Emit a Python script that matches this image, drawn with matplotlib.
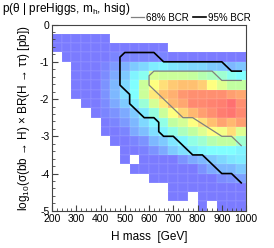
import numpy as np
import matplotlib.pyplot as plt
from matplotlib.colors import LinearSegmentedColormap

plt.rcParams['font.family'] = ['Liberation Sans', 'DejaVu Sans']
plt.rcParams['mathtext.fontset'] = 'custom'
plt.rcParams['mathtext.rm'] = 'Liberation Sans'
plt.rcParams['mathtext.it'] = 'Liberation Sans:italic'
plt.rcParams['axes.unicode_minus'] = False

# bin edges of the posterior histogram
mass_edges = np.arange(200, 1001, 40)
xsec_edges = np.arange(0, -5.01, -0.25)

# posterior density (arbitrary units, 0 = empty bin), rows from top (log10 = 0) down
density = [
    [0, 0, 0, 0, 0, 0, 0, 0, 0, 0, 0, 0, 0, 0, 0, 0, 0, 0, 0, 0],
    [5, 5, 5, 5, 5, 5, 0, 0, 0, 0, 0, 0, 0, 0, 0, 0, 0, 0, 0, 0],
    [5, 5, 5, 5, 5, 5, 5, 5, 5, 5, 5, 5, 0, 0, 0, 0, 0, 0, 0, 0],
    [0, 5, 5, 5, 5, 5, 8, 8, 8, 8, 8, 8, 5, 5, 5, 5, 5, 5, 5, 5],
    [0, 0, 5, 5, 5, 8, 14, 20, 27, 31, 37, 39, 35, 33, 31, 31, 27, 26, 22, 26],
    [0, 0, 5, 5, 5, 10, 18, 27, 39, 44, 58, 56, 56, 56, 55, 52, 50, 48, 44, 42],
    [0, 0, 5, 5, 5, 12, 22, 31, 42, 56, 66, 72, 76, 78, 78, 75, 66, 60, 54, 54],
    [0, 0, 5, 5, 5, 12, 22, 33, 42, 56, 70, 78, 82, 88, 90, 90, 90, 90, 86, 84],
    [0, 0, 0, 5, 5, 10, 18, 27, 37, 47, 58, 70, 80, 84, 92, 92, 94, 95, 100, 90],
    [0, 0, 0, 0, 5, 8, 12, 18, 27, 36, 46, 56, 66, 74, 80, 86, 90, 96, 98, 92],
    [0, 0, 0, 0, 0, 5, 8, 14, 22, 31, 39, 45, 54, 58, 66, 72, 78, 85, 80, 86],
    [0, 0, 0, 0, 0, 5, 5, 8, 18, 24, 33, 39, 45, 50, 54, 60, 66, 64, 72, 60],
    [0, 0, 0, 0, 0, 0, 5, 5, 8, 12, 22, 27, 35, 40, 45, 48, 52, 54, 54, 48],
    [0, 0, 0, 0, 0, 0, 0, 5, 5, 7, 12, 18, 27, 33, 37, 40, 42, 42, 42, 39],
    [0, 0, 0, 0, 0, 0, 0, 5, 0, 5, 5, 5, 5, 12, 18, 22, 27, 31, 35, 37],
    [0, 0, 0, 0, 0, 0, 0, 0, 5, 5, 5, 5, 5, 5, 5, 12, 18, 22, 22, 27],
    [0, 0, 0, 0, 0, 0, 0, 0, 0, 0, 5, 5, 5, 5, 5, 5, 5, 10, 12, 16],
    [0, 0, 0, 0, 0, 0, 0, 0, 0, 0, 0, 0, 5, 5, 5, 5, 5, 5, 5, 5],
    [0, 0, 0, 0, 0, 0, 0, 0, 0, 0, 0, 0, 5, 5, 0, 5, 5, 5, 5, 5],
    [0, 0, 0, 0, 0, 0, 0, 0, 0, 0, 0, 0, 0, 0, 0, 5, 0, 5, 5, 5],
]

# credible region contours
c68_mass = [980, 900, 860, 620, 600, 600, 740, 780, 900, 940, 980]
c68_xsec = [-1.5, -1.5, -1.25, -1.25, -1.375, -1.625, -2.5, -2.5, -3.0, -3.0, -3.25]
c95_mass = [980, 940, 900, 660, 620, 500, 480, 480, 520, 520, 580, 620, 640, 640,
            660, 700, 780, 820, 900, 940, 980]
c95_xsec = [-1.25, -1.25, -1.0, -1.0, -0.75, -0.75, -0.875, -1.625, -1.875, -2.125,
            -2.5, -2.5, -2.625, -2.875, -3.0, -3.0, -3.5, -3.5, -4.0, -4.0, -4.25]

cmap = LinearSegmentedColormap.from_list('rootish', [
    (0.0, '#7878FF'), (0.05, '#7B7BFF'), (0.42, '#80FFFF'), (0.54, '#C0FFA0'),
    (0.66, '#FFFF80'), (0.78, '#FFC070'), (0.9, '#FF9070'), (1.0, '#FF7070')])

fig = plt.figure(figsize=(2.74, 2.48), dpi=100)
ax = fig.add_axes([0.19, 0.15, 0.708, 0.751])

z = np.ma.masked_equal(np.array(density, dtype=float), 0)
ax.pcolormesh(mass_edges, xsec_edges, z, cmap=cmap, vmin=0, vmax=100,
              edgecolors=(1, 1, 1, 0.05), linewidth=0.3)

ax.plot(c68_mass, c68_xsec, color='#808080', lw=0.9, label='68% BCR')
ax.plot(c95_mass, c95_xsec, color='black', lw=1.2, label='95% BCR')

ax.set_xlim(200, 1000)
ax.set_ylim(-5, 0)
ax.set_xticks(np.arange(200, 1001, 100))
ax.set_xticks(np.arange(200, 1001, 20), minor=True)
ax.set_yticks(np.arange(-5, 0.1, 1))
ax.set_yticks(np.arange(-5, 0.01, 0.2), minor=True)
ax.tick_params(which='both', direction='in', labelsize=7.5, color='#444444',
               top=False, right=False, pad=2)
ax.tick_params(which='major', length=4)
ax.tick_params(which='minor', length=2)
for s in ax.spines.values():
    s.set_color('#444444')
    s.set_linewidth(0.8)

ax.set_xlabel('H mass  [GeV]', fontsize=8.5, labelpad=5)
ax.set_ylabel('log$_{10}$(σ(bb → H) × BR(H → ττ) [pb])', fontsize=8.5, labelpad=6)

fig.text(0.008, 0.965, 'p(θ | preHiggs, m$_\\mathrm{h}$, hsig)', fontsize=8.5,
         va='center', ha='left')
fig.legend(loc='center right', bbox_to_anchor=(0.915, 0.928), ncol=2, frameon=False,
           fontsize=7, handlelength=1.3, handletextpad=0.2, columnspacing=0.5,
           borderpad=0, borderaxespad=0)

fig.savefig('out.png', dpi=100)
